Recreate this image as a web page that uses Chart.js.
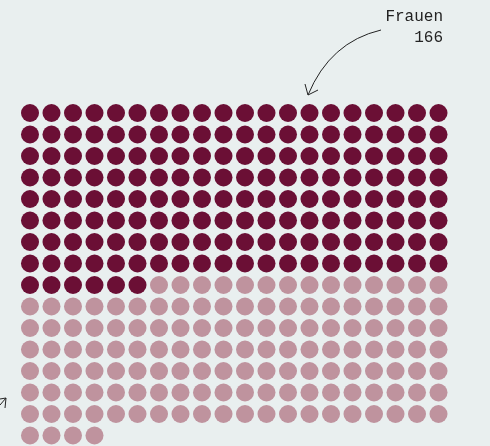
<!DOCTYPE html>
<html>
<head>
<meta charset="utf-8">
<script src="https://cdn.jsdelivr.net/npm/chart.js@4"></script>
<style>
  html, body { margin:0; padding:0; background:#e9efef; }
  #wrap { width:490px; height:446px; }
</style>
</head>
<body>
<div id="wrap"><canvas id="dots"></canvas></div>
<script>
// === Daten ===
const groups = ['Frauen', 'Männer'];
const counts = [166, 138];
const colors = ['#6b0f35', '#bf939e'];
const perRow = 20;

// Punkte für das Waffel-Raster aus den Zählern bauen
let idx = 0;
const datasets = groups.map((g, i) => {
  const pts = [];
  for (let k = 0; k < counts[i]; k++, idx++) {
    pts.push({ x: idx % perRow, y: Math.floor(idx / perRow) });
  }
  return { label: g, data: pts, backgroundColor: colors[i], borderWidth: 0, pointRadius: 9, pointHoverRadius: 9 };
});

// === Anmerkungen ===
const notes = {
  id: 'notes',
  afterDraw(chart) {
    const c = chart.ctx;
    c.save();
    c.fillStyle = '#222';
    c.font = '16px "Liberation Mono", monospace';
    c.textAlign = 'right';
    c.fillText(groups[0], 443, 21);
    c.fillText(String(counts[0]), 443, 42);

    c.strokeStyle = '#222';
    c.lineWidth = 1;
    c.beginPath();
    c.moveTo(381, 30);
    c.quadraticCurveTo(330, 42, 308, 95);
    c.stroke();
    c.beginPath();
    c.moveTo(305, 84); c.lineTo(308, 95); c.lineTo(318, 90);
    c.stroke();

    // abgeschnittener Pfeil unten links
    c.beginPath();
    c.moveTo(0, 405); c.lineTo(6, 398);
    c.moveTo(0, 399); c.lineTo(6, 398); c.lineTo(5, 408);
    c.stroke();
    c.restore();
  }
};

new Chart(document.getElementById('dots'), {
  type: 'scatter',
  data: { datasets },
  options: {
    responsive: true,
    maintainAspectRatio: false,
    animation: false,
    layout: { padding: 0, autoPadding: false },
    plugins: { legend: { display: false }, tooltip: { enabled: false } },
    scales: {
      x: { display: false, min: -1.395, max: 21.395 },
      y: { display: false, reverse: true, min: -5.256, max: 15.488 }
    }
  },
  plugins: [notes]
});
</script>
</body>
</html>
